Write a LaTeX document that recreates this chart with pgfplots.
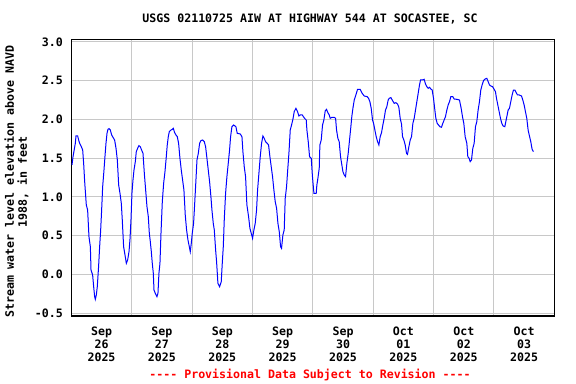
\documentclass[border=0pt]{standalone}
\usepackage{fontspec}
\setmainfont{DejaVu Sans Mono}[Ligatures=TeXOff]
\usepackage{pgfplots}
\pgfplotsset{compat=1.18}
\definecolor{gridgray}{RGB}{200,200,200}
\newcommand{\chartfont}{\fontsize{8.7}{9.75}\selectfont\bfseries}
\begin{document}
\begin{tikzpicture}
\path (-53.5pt,-51.2pt) rectangle (378.5pt,236.8pt);
\begin{axis}[
  at={(0,0)}, anchor=south west,
  scale only axis, width=362.25pt, height=207.3pt,
  xmin=0, xmax=8, ymin=-0.534, ymax=3.032,
  xtick={0.5,1.5,2.5,3.5,4.5,5.5,6.5,7.5},
  xticklabels={{Sep\\26\\2025},{Sep\\27\\2025},{Sep\\28\\2025},{Sep\\29\\2025},{Sep\\30\\2025},{Oct\\01\\2025},{Oct\\02\\2025},{Oct\\03\\2025}},
  minor xtick={1,2,3,4,5,6,7},
  xminorgrids=true, xmajorgrids=false,
  ytick={-0.5,0,0.5,1,1.5,2,2.5,3},
  yticklabels={-0.5,0.0,0.5,1.0,1.5,2.0,2.5,3.0},
  ymajorgrids=true,
  major tick length=0pt, minor tick length=0pt,
  grid style={color=gridgray, line width=0.75pt},
  minor grid style={color=gridgray, line width=0.75pt},
  major grid style={color=gridgray, line width=0.75pt},
  axis line style={line width=1.2pt},
  xticklabel style={align=center, font=\chartfont, inner sep=0pt, anchor=north, yshift=-8.25pt},
  yticklabel style={font=\chartfont, inner sep=0pt, anchor=east, xshift=-6.2pt},
  clip=true,
]
\addplot[color={rgb,255:red,0;green,0;blue,255}, line width=0.75pt, mark=none] coordinates {
(0.011,1.411)(0.028,1.518)(0.050,1.617)(0.066,1.690)(0.077,1.785)(0.105,1.785)(0.121,1.733)(0.138,1.690)(0.166,1.647)(0.188,1.604)
(0.204,1.432)(0.221,1.196)(0.248,0.895)(0.270,0.830)(0.292,0.486)(0.315,0.357)(0.326,0.056)(0.353,-0.009)(0.370,-0.159)(0.386,-0.288)
(0.397,-0.323)(0.414,-0.267)(0.430,-0.159)(0.453,0.120)(0.469,0.357)(0.486,0.572)(0.502,0.830)(0.519,1.131)(0.541,1.346)(0.557,1.518)
(0.574,1.690)(0.591,1.819)(0.607,1.871)(0.624,1.880)(0.646,1.862)(0.668,1.798)(0.690,1.768)(0.717,1.733)(0.740,1.626)(0.762,1.475)
(0.784,1.153)(0.806,1.045)(0.828,0.916)(0.844,0.701)(0.866,0.357)(0.889,0.249)(0.911,0.142)(0.933,0.185)(0.955,0.292)(0.971,0.443)
(0.988,0.701)(1.004,1.045)(1.021,1.217)(1.038,1.346)(1.060,1.454)(1.076,1.583)(1.098,1.626)(1.120,1.660)(1.142,1.647)(1.164,1.604)
(1.187,1.561)(1.209,1.303)(1.231,1.088)(1.253,0.873)(1.275,0.744)(1.291,0.538)(1.308,0.422)(1.325,0.292)(1.341,0.142)(1.358,0.013)
(1.369,-0.202)(1.391,-0.245)(1.418,-0.288)(1.435,-0.245)(1.451,0.013)(1.468,0.142)(1.485,0.529)(1.507,0.938)(1.529,1.174)(1.551,1.325)
(1.573,1.518)(1.589,1.669)(1.606,1.776)(1.623,1.841)(1.650,1.862)(1.672,1.871)(1.689,1.884)(1.711,1.828)(1.733,1.798)(1.755,1.776)
(1.777,1.690)(1.799,1.497)(1.821,1.346)(1.843,1.217)(1.865,1.088)(1.887,0.766)(1.909,0.572)(1.932,0.443)(1.954,0.357)(1.970,0.292)
(1.987,0.400)(2.003,0.529)(2.025,0.658)(2.042,0.895)(2.064,1.217)(2.081,1.475)(2.103,1.561)(2.125,1.690)(2.147,1.725)(2.174,1.733)
(2.202,1.712)(2.224,1.647)(2.246,1.497)(2.268,1.346)(2.290,1.196)(2.312,1.002)(2.329,0.830)(2.351,0.658)(2.368,0.572)(2.390,0.314)
(2.406,0.163)(2.428,-0.116)(2.456,-0.159)(2.483,-0.095)(2.500,0.142)(2.517,0.357)(2.533,0.701)(2.555,1.045)(2.577,1.260)(2.599,1.432)
(2.621,1.604)(2.638,1.776)(2.660,1.905)(2.688,1.927)(2.726,1.905)(2.748,1.819)(2.798,1.811)(2.826,1.776)(2.842,1.583)(2.864,1.389)
(2.886,1.260)(2.908,0.895)(2.936,0.744)(2.958,0.594)(2.980,0.529)(3.002,0.465)(3.024,0.572)(3.046,0.658)(3.068,0.830)(3.085,1.088)
(3.107,1.303)(3.129,1.518)(3.151,1.690)(3.173,1.785)(3.195,1.755)(3.217,1.712)(3.245,1.690)(3.267,1.669)(3.289,1.518)(3.311,1.389)
(3.333,1.260)(3.355,1.088)(3.377,0.938)(3.400,0.852)(3.422,0.658)(3.444,0.551)(3.466,0.357)(3.482,0.335)(3.504,0.508)(3.526,0.572)
(3.543,0.981)(3.565,1.131)(3.582,1.325)(3.604,1.561)(3.626,1.862)(3.648,1.927)(3.670,2.000)(3.692,2.099)(3.720,2.142)(3.747,2.099)
(3.769,2.043)(3.791,2.056)(3.825,2.056)(3.863,2.013)(3.891,1.991)
(3.902,1.862)(3.924,1.712)(3.946,1.518)(3.974,1.497)(3.990,1.303)(4.001,1.196)(4.018,1.045)(4.056,1.045)(4.067,1.153)(4.084,1.239)
(4.106,1.368)(4.117,1.669)(4.139,1.733)(4.161,1.927)(4.183,1.991)(4.205,2.108)(4.227,2.129)(4.249,2.086)(4.272,2.056)(4.288,2.013)
(4.316,2.026)(4.354,2.026)(4.377,2.013)(4.393,1.862)(4.415,1.755)(4.437,1.712)(4.459,1.518)(4.481,1.411)(4.498,1.325)(4.520,1.282)
(4.542,1.260)(4.564,1.432)(4.586,1.561)(4.608,1.733)(4.630,1.905)(4.647,2.043)(4.664,2.142)(4.686,2.249)(4.713,2.314)(4.741,2.387)
(4.785,2.387)(4.818,2.335)(4.851,2.301)(4.901,2.292)(4.923,2.271)(4.945,2.228)(4.967,2.142)(4.989,1.991)(5.006,1.948)(5.028,1.862)
(5.050,1.776)(5.072,1.712)(5.094,1.669)(5.116,1.776)(5.138,1.828)(5.160,1.927)(5.182,2.013)(5.204,2.120)(5.226,2.163)(5.248,2.249)
(5.265,2.271)(5.293,2.280)(5.315,2.249)(5.348,2.206)(5.375,2.215)(5.403,2.198)(5.425,2.155)(5.447,2.013)(5.469,1.940)(5.486,1.776)
(5.508,1.733)(5.530,1.669)(5.552,1.561)(5.568,1.548)(5.591,1.647)(5.613,1.733)(5.635,1.776)(5.657,1.948)(5.679,2.013)(5.701,2.120)
(5.723,2.228)(5.745,2.335)(5.767,2.443)(5.784,2.508)(5.817,2.508)(5.844,2.516)(5.866,2.456)(5.888,2.422)(5.911,2.400)(5.933,2.413)
(5.955,2.391)(5.977,2.378)(5.999,2.271)(6.021,2.120)(6.038,2.013)(6.060,1.948)(6.082,1.927)(6.104,1.905)(6.131,1.897)(6.153,1.948)
(6.175,1.991)(6.197,2.034)(6.220,2.120)(6.242,2.185)(6.264,2.228)(6.286,2.292)(6.319,2.292)(6.341,2.262)(6.385,2.258)(6.429,2.249)
(6.457,2.142)(6.479,2.034)(6.501,1.948)(6.523,1.776)(6.551,1.690)(6.567,1.518)(6.589,1.497)(6.606,1.454)(6.628,1.475)(6.650,1.626)
(6.672,1.690)(6.694,1.905)(6.716,1.970)(6.738,2.120)(6.760,2.228)(6.782,2.378)(6.804,2.443)(6.827,2.499)(6.854,2.520)(6.882,2.529)
(6.904,2.486)(6.926,2.443)(6.948,2.430)(6.976,2.422)(7.003,2.387)(7.025,2.357)(7.042,2.271)(7.064,2.185)(7.086,2.099)(7.108,2.013)
(7.130,1.948)(7.152,1.914)(7.180,1.905)(7.202,1.991)(7.219,2.056)(7.235,2.120)(7.257,2.142)(7.279,2.228)(7.301,2.314)(7.323,2.378)
(7.346,2.378)(7.368,2.344)(7.390,2.314)(7.417,2.314)(7.456,2.301)(7.478,2.249)(7.500,2.185)(7.522,2.099)(7.544,2.013)(7.566,1.862)
(7.588,1.785)(7.610,1.712)(7.632,1.613)(7.654,1.583)
};
\end{axis}
\node[font=\chartfont, anchor=center, inner sep=0pt] at (179pt,222.5pt) {USGS 02110725 AIW AT HIGHWAY 544 AT SOCASTEE, SC};
\node[font=\chartfont, anchor=center, inner sep=0pt, text=red] at (179pt,-44.5pt) {-\kern0pt-\kern0pt-\kern0pt- Provisional Data Subject to Revision -\kern0pt-\kern0pt-\kern0pt-};
\node[font=\chartfont, anchor=center, inner sep=0pt, align=center, rotate=90] at (-41.1pt,100.5pt) {Stream water level elevation above NAVD\\1988, in feet};
\end{tikzpicture}
\end{document}
